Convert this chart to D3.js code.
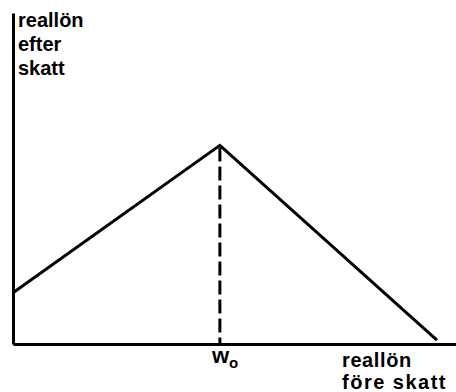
<!DOCTYPE html>
<html><head><meta charset="utf-8">
<script src="https://cdn.jsdelivr.net/npm/d3@7"></script>
<style>
html,body{margin:0;padding:0;background:#fff;}
svg{display:block;}
text{font-family:"Liberation Sans",Arial,sans-serif;font-weight:bold;fill:#000;}
</style></head>
<body>
<svg id="c" width="456" height="392"></svg>
<script>
// Data (arbitrary units)
const curveX = [0, 46.7, 95.7];        // reallön före skatt
const curveY = [15.5, 60, 1.2];        // reallön efter skatt
const w0 = 46.7;
const yAxisLabel = ["reallön", "efter", "skatt"];
const xAxisLabel = ["reallön", "före skatt"];

const svg = d3.select("#c");
const x = d3.scaleLinear().domain([0, 100]).range([13, 456]);
const y = d3.scaleLinear().domain([0, 100]).range([344, 13]);

// axes (domain lines only)
svg.append("g").attr("transform", `translate(0,${y(0)})`)
  .call(d3.axisBottom(x).ticks(0).tickSizeOuter(0))
  .call(g => g.select(".domain").attr("stroke", "#000").attr("stroke-width", 3));
svg.append("g").attr("transform", `translate(${x(0)},0)`)
  .call(d3.axisLeft(y).ticks(0).tickSizeOuter(0))
  .call(g => g.select(".domain").attr("stroke", "#000").attr("stroke-width", 3));

const pts = curveX.map((v, i) => [v, curveY[i]]);
svg.append("path")
  .attr("d", d3.line().x(d => x(d[0])).y(d => y(d[1]))(pts))
  .attr("fill", "none").attr("stroke", "#000").attr("stroke-width", 3)
  .attr("stroke-linejoin", "miter");

const peakY = curveY[curveX.indexOf(w0)];
svg.append("line")
  .attr("x1", x(w0)).attr("x2", x(w0))
  .attr("y1", y(peakY) + 2).attr("y2", y(0))
  .attr("stroke", "#000").attr("stroke-width", 3)
  .attr("stroke-dasharray", "14,5");

// labels
svg.append("g").selectAll("text").data(yAxisLabel).join("text")
  .attr("x", 18).attr("y", (d, i) => 27 + i * 24)
  .attr("font-size", 20).text(d => d);

const wl = svg.append("text").attr("x", x(w0) - 8).attr("y", 363).attr("font-size", 22);
wl.append("tspan").text("w");
wl.append("tspan").attr("dy", 5).attr("font-size", 15).text("o");

svg.append("g").selectAll("text").data(xAxisLabel).join("text")
  .attr("x", 342).attr("y", (d, i) => 367 + i * 22)
  .attr("font-size", 20)
  .attr("letter-spacing", (d, i) => i === 0 ? 0.6 : 1.5)
  .text(d => d);
</script>
</body></html>
